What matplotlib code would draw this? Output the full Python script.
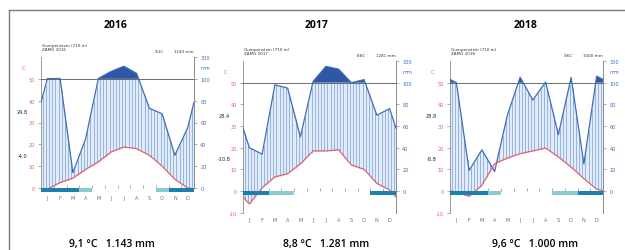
import numpy as np
import matplotlib
matplotlib.use("Agg")
import matplotlib.pyplot as plt
from matplotlib.lines import Line2D

# ---------------- data ----------------
years = ["2016", "2017", "2018"]
months = ["J", "F", "M", "A", "M", "J", "J", "A", "S", "O", "N", "D"]

temp_2016 = [-0.5, 2.5, 4.5, 8.5, 12.0, 16.5, 18.8, 18.0, 15.0, 10.0, 4.0, 0.0]
temp_2017 = [-6.0, 1.5, 6.5, 8.0, 12.5, 18.5, 18.5, 19.0, 12.0, 10.0, 3.5, 0.5]
temp_2018 = [-0.5, -2.5, 2.6, 12.6, 15.2, 17.2, 18.5, 19.8, 15.7, 11.0, 5.7, 0.8]

prec_2016 = [102, 103, 14, 45, 104, 168, 215, 150, 73, 68, 30, 55]
prec_2017 = [40, 34, 98, 95, 50, 112, 250, 225, 100, 128, 70, 76]
prec_2018 = [100, 19, 38, 18, 70, 150, 84, 106, 52, 148, 25, 160]

# frost: 2 = certain frost, 1 = probable frost, 0 = none
frost_2016 = [2, 2, 2, 1, 0, 0, 0, 0, 0, 1, 2, 2]
frost_2017 = [2, 2, 1, 1, 0, 0, 0, 0, 0, 0, 2, 2]
frost_2018 = [2, 2, 2, 1, 0, 0, 0, 0, 1, 1, 2, 2]

tmax_labels = ["24.8", "28.4", "28.8"]
tmin_labels = ["-4.0", "-10.8", "-8.8"]
head_right = ["9.1C", "8.8C", "9.6C"]
head_mm = ["1143 mm", "1281 mm", "1000 mm"]
bottom_texts = ["9,1 °C   1.143 mm", "8,8 °C   1.281 mm", "9,6 °C   1.000 mm"]
station = "Gumpenstein (710 m)"

temps = [temp_2016, temp_2017, temp_2018]
precs = [prec_2016, prec_2017, prec_2018]
frosts = [frost_2016, frost_2017, frost_2018]

# ---------------- layout (pixels) ----------------
W, H = 625, 251
# left px, right px, top px (300mm), zero px, lowest unit
geom = [
    (41, 194, 58, 189, 0),
    (243, 396, 62, 192, -20),
    (450, 603, 62, 192, -20),
]
title_x = [116, 317, 526]
bottom_x = [112, 326, 535]

RED = "#e2606e"
BLUE_TXT = "#3c6fc0"
LINE_BLUE = "#3f6cb8"
DARK_BLUE = "#2c58a6"
LIGHT_FILL = "#e2ecf8"
HATCH = "#86abdc"
FROST_C = {2: "#1b80ae", 1: "#86ccd2"}
GRAY = "#8c8c8c"

plt.rcParams['font.family'] = ['DejaVu Sans']
fig = plt.figure(figsize=(W / 100, H / 100), dpi=100)


def tr(p):
    p = np.asarray(p, dtype=float)
    return np.where(p <= 100, p, 100 + (p - 100) / 10.0)


for i in range(3):
    lpx, rpx, tpx, zpx, ymin_axis = geom[i]
    scale = (zpx - tpx) / 120.0
    ylow = -4 if ymin_axis == 0 else -20
    bpx = zpx - ylow * scale
    ax = fig.add_axes([lpx / W, (H - bpx) / H, (rpx - lpx) / W, (bpx - tpx) / H])
    ax.set_xlim(0, 12)
    ax.set_ylim(ylow, 120)
    ax.patch.set_alpha(0)

    T = np.asarray(temps[i], float)
    P = np.asarray(precs[i], float)
    xs = np.r_[0, np.arange(12) + 0.5, 12]
    T_ext = np.r_[(T[0] + T[-1]) / 2, T, (T[0] + T[-1]) / 2] * 2
    P_ext = tr(np.r_[(P[0] + P[-1]) / 2, P, (P[0] + P[-1]) / 2])

    xf = np.linspace(0, 12, 2401)
    Pf = np.interp(xf, xs, P_ext)
    Tf = np.interp(xf, xs, T_ext)

    # humid period
    ax.fill_between(xf, Tf, np.minimum(Pf, 100), where=Pf >= Tf,
                    color=LIGHT_FILL, lw=0, interpolate=True, zorder=1)
    xv = np.arange(0.125, 12, 0.25)
    Pv = np.interp(xv, xs, P_ext)
    Tv = np.interp(xv, xs, T_ext)
    m = Pv > Tv
    ax.vlines(xv[m], Tv[m], np.minimum(Pv[m], 100), color=HATCH, lw=0.6, zorder=2)
    # dry period
    md = Tv > Pv
    if md.any():
        ax.vlines(xv[md], Pv[md], Tv[md], color=RED, lw=0.6,
                  linestyles=(0, (1, 1)), zorder=2)
    # perhumid (> 100 mm)
    ax.fill_between(xf, 100, Pf, where=Pf > 100, color=DARK_BLUE, lw=0,
                    interpolate=True, zorder=3)

    ax.plot([0, 12], [100, 100], color="#555555", lw=0.6, zorder=3)
    ax.plot(xs, P_ext, color=LINE_BLUE, lw=0.9, zorder=4)
    ax.plot(xs, T_ext, color=RED, lw=0.9, zorder=4)

    # month boundary ticks
    ax.vlines(np.arange(1, 12), 0, 2.5, color=GRAY, lw=0.5, zorder=0.5)

    # frost bars
    for k, f in enumerate(frosts[i]):
        if f:
            ax.bar(k + 0.5, -3.6, width=1.0, bottom=0, color=FROST_C[f],
                   lw=0, zorder=5)

    # spines / axes
    for s in ["top", "bottom"]:
        ax.spines[s].set_visible(False)
    for s in ["left", "right"]:
        ax.spines[s].set_bounds(ymin_axis, 120)
        ax.spines[s].set_color(GRAY)
        ax.spines[s].set_linewidth(0.6)
    tvals = list(range(-10 if ymin_axis < 0 else 0, 51, 10))
    ax.set_yticks([2 * t for t in tvals])
    ax.set_yticklabels([str(t) for t in tvals])
    ax.tick_params(axis='y', which='both', length=2, width=0.5, color=GRAY,
                   labelsize=3.6, labelcolor=RED, pad=2.5, direction='out')
    ax.set_xticks(np.arange(12) + 0.5)
    ax.set_xticklabels(months)
    ax.tick_params(axis='x', length=0, labelsize=3.6, labelcolor="#707070",
                   pad=1.8 if ymin_axis == 0 else 3.0)

    ax2 = ax.twinx()
    ax2.set_ylim(ylow, 120)
    for s in ["top", "bottom", "left"]:
        ax2.spines[s].set_visible(False)
    ax2.spines["right"].set_bounds(ymin_axis, 120)
    ax2.spines["right"].set_color(GRAY)
    ax2.spines["right"].set_linewidth(0.6)
    ax2.set_yticks([0, 20, 40, 60, 80, 100, 120])
    ax2.set_yticklabels(["0", "20", "40", "60", "80", "100", "300"])
    ax2.tick_params(axis='y', length=2, width=0.5, color=GRAY, labelsize=3.6,
                    labelcolor=BLUE_TXT, pad=2.5)

    # axis unit labels
    ax.text(-1.35, 110, "C", color=RED, fontsize=3.6, ha='center', va='center')
    ax.text(12.9, 110.5, "mm", color=BLUE_TXT, fontsize=3.6, ha='center', va='center')
    # extremes
    ax.text(-1.45, 70, tmax_labels[i], color="#222222", fontsize=3.6,
            ha='center', va='center')
    ax.text(-1.45, 30, tmin_labels[i], color="#222222", fontsize=3.6,
            ha='center', va='center')
    # header
    ax.text(0.05, 125.5, station + "\nZAMG " + years[i], fontsize=3.0,
            color="#333333", ha='left', va='bottom', linespacing=1.1)
    ax.text(9.3, 123.5, head_right[i], fontsize=3.0, color="#333333",
            ha='center', va='bottom')
    ax.text(12.0, 123.5, head_mm[i], fontsize=3.0, color="#333333",
            ha='right', va='bottom')

    fig.text(title_x[i] / W, 1 - 25 / H, years[i], fontsize=7.5,
             fontweight='bold', family=['Open Sans', 'DejaVu Sans'],
             ha='center', va='center')
    fig.text(bottom_x[i] / W, 1 - 244.5 / H, bottom_texts[i], fontsize=7.5,
             fontweight='semibold', family=['Open Sans', 'DejaVu Sans'],
             ha='center', va='center')

# frame
fig.add_artist(Line2D([9 / W, 1.0], [1 - 11 / H, 1 - 11 / H],
                      transform=fig.transFigure, color="#7a7a7a", lw=1.0))
fig.add_artist(Line2D([9 / W, 9 / W], [0.0, 1 - 11 / H],
                      transform=fig.transFigure, color="#7a7a7a", lw=1.0))

fig.savefig("out.png", dpi=100)
